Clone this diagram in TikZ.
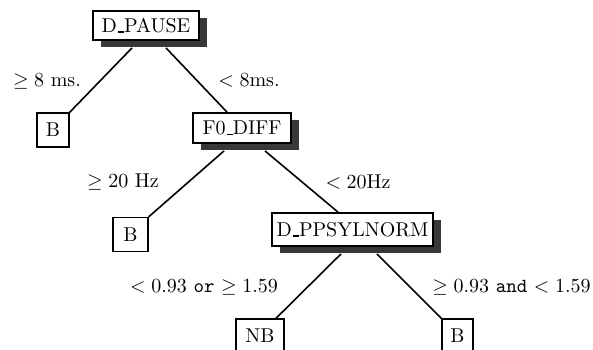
\documentclass[tikz,border=0pt]{standalone}
\usetikzlibrary{shadows}
% short low bar, as the classic \_ of Computer Modern
\newcommand\lowbar{\leavevmode\kern.06em\rule[-0.3pt]{0.3em}{0.8pt}}
\begin{document}
\begin{tikzpicture}[x=0.5pt,y=-0.5pt,
  test/.style={draw, line width=0.9pt, fill=white, inner sep=0pt,
    drop shadow={shadow xshift=3.75pt, shadow yshift=-3.5pt, fill=black!78, opacity=1}},
  leaf/.style={draw, line width=0.7pt, fill=white, inner sep=0pt, minimum height=17pt},
  branch/.style={line width=0.8pt},
  cond/.style={anchor=base, inner sep=0pt}]
\useasboundingbox (0,0) rectangle (593,349);

% decision nodes
\node[test, minimum width=53pt,   minimum height=14.5pt] (dpause) at (146,25.5)  {D\lowbar PAUSE};
\node[test, minimum width=49pt,   minimum height=15pt]   (f0)     at (242,128)   {F0\lowbar DIFF};
\node[test, minimum width=80.5pt, minimum height=16.5pt] (dpps)   at (352.5,229.5) {D\lowbar PPSYLNORM};

% leaves
\node[leaf, minimum width=16pt]   (b1) at (53,130)    {B};
\node[leaf, minimum width=17.5pt] (b2) at (130.5,234.5) {B};
\node[leaf, minimum width=24pt]   (nb) at (260,336)   {NB};
\node[leaf, minimum width=15.5pt] (b3) at (457.5,336) {B};

% branches
\draw[branch] ([xshift=-7pt,yshift=-3.5pt]dpause.south) -- (b1.north east);
\draw[branch] ([xshift=10pt,yshift=-3.5pt]dpause.south) -- ([xshift=-7.5pt]f0.north);
\draw[branch] ([xshift=-9pt,yshift=-3.5pt]f0.south) -- (b2.north east);
\draw[branch] ([xshift=11.5pt,yshift=-3.5pt]f0.south) -- ([xshift=-7.25pt]dpps.north);
\draw[branch] ([xshift=-5.75pt,yshift=-3.5pt]dpps.south) -- ([xshift=8pt]nb.north);
\draw[branch] ([xshift=12.25pt,yshift=-3.5pt]dpps.south) -- (b3.north west);

% branch conditions
\node[cond] (c1) at (47,86)   {$\geq 8$ ms.};
\node[cond] (c2) at (249,86)  {$< 8$ms.};
\node[cond] (c3) at (123,187) {$\geq 20$ Hz};
\node[cond] (c4) at (358,188) {$< 20$Hz};
\node[cond] (c5) at (204,292) {$< 0.93$ \texttt{or} $\geq 1.59$};
\node[cond] (c6) at (511.5,292) {$\geq 0.93$ \texttt{and} $< 1.59$};
\end{tikzpicture}
\end{document}
